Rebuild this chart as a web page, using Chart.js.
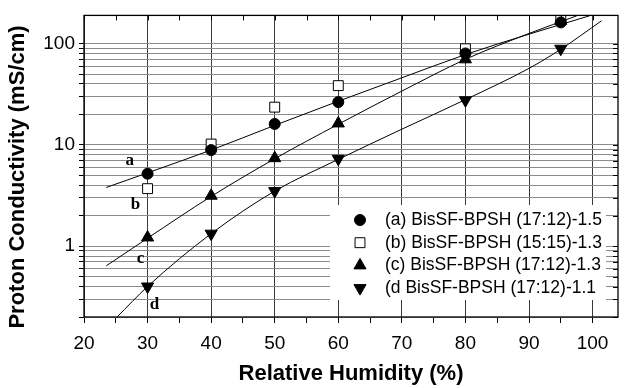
<!DOCTYPE html>
<html lang="en">
<head>
<meta charset="UTF-8"/>
<title>Proton Conductivity vs Relative Humidity</title>
<script src="https://cdn.jsdelivr.net/npm/chart.js"></script>
<style>
  body{margin:0;background:#fff;}
  #wrap{width:626px;height:388px;}
</style>
</head>
<body>
<div id="wrap"><canvas id="chart" width="626" height="388"></canvas></div>
<script>
  // measured points (RH %, conductivity mS/cm)
  const rh=[30,40,50,60,80,95];
  const seriesA=[5.2,8.9,16.1,26.5,80,162];
  const seriesB=[3.7,10.2,23.6,38.5,89,178];
  const seriesC=[1.22,3.15,7.4,16.3,70,168];
  const seriesD=[0.40,1.33,3.5,7.3,27.6,89];

  // fitted curves
  const fitAx=[23.5,30,40,50,60,70,80,90,99.5];
  const fitAy=[3.8,5.3,8.9,15.6,27,46,78,124,188];
  const fitCx=[23.5,30,40,50,60,70,80,90,97.5];
  const fitCy=[0.64,1.2,3.1,7.3,16,34,70,126,188];
  const fitDx=[25.2,30,40,50,60,70,80,90,95,101.4];
  const fitDy=[0.2,0.4,1.33,3.5,7.2,14.3,28,57,88,168];

  const legendLabels=['(a) BisSF-BPSH (17:12)-1.5','(b) BisSF-BPSH (15:15)-1.3','(c) BisSF-BPSH (17:12)-1.3','(d BisSF-BPSH (17:12)-1.1'];
  const xTicks=[20,25,30,35,40,45,50,55,60,65,70,75,80,85,90,95,100];
  const yTicks=[0.2,0.3,0.4,0.5,0.6,0.7,0.8,0.9,1,2,3,4,5,6,7,8,9,10,20,30,40,50,60,70,80,90,100];
  const yLabels=[1,10,100];

  const pts=(xs,ys)=>xs.map((x,i)=>({x:x,y:ys[i]}));
  const markStyles=[
    {pointStyle:'circle',pointRadius:5.5,bg:'#000'},
    {pointStyle:'rect',pointRadius:7,bg:'#fff'},
    {pointStyle:'triangle',pointRadius:7,bg:'#000',rot:0},
    {pointStyle:'triangle',pointRadius:7,bg:'#000',rot:180}
  ];
  const marks=[seriesA,seriesB,seriesC,seriesD].map((s,i)=>({
    label:legendLabels[i],data:pts(rh,s),showLine:false,
    pointStyle:markStyles[i].pointStyle,pointRadius:markStyles[i].pointRadius,
    pointRotation:markStyles[i].rot||0,
    pointBackgroundColor:markStyles[i].bg,pointBorderColor:'#000',pointBorderWidth:1
  }));
  const fits=[[fitAx,fitAy],[fitCx,fitCy],[fitDx,fitDy]].map(f=>({
    data:pts(f[0],f[1]),showLine:true,pointRadius:0,borderColor:'#000',borderWidth:1,
    tension:0.4,cubicInterpolationMode:'monotone'
  }));

  // frame, inner ticks, y title, curve tags, legend
  const decor={
    id:'decor',
    afterDraw(chart){
      const c=chart.ctx,a=chart.chartArea,xs=chart.scales.x,ys=chart.scales.y;
      c.save();
      // inner ticks on top and right
      c.strokeStyle='#000';c.lineWidth=1;c.beginPath();
      xTicks.forEach(v=>{const px=Math.round(xs.getPixelForValue(v))+0.5;c.moveTo(px,a.top);c.lineTo(px,a.top+5);});
      yTicks.forEach(v=>{const py=Math.round(ys.getPixelForValue(v))+0.5;c.moveTo(a.right,py);c.lineTo(a.right-5,py);});
      c.stroke();
      c.lineWidth=1.3;c.strokeRect(a.left,a.top,a.right-a.left,a.bottom-a.top);
      // y title
      c.fillStyle='#000';c.font='bold 22px "Liberation Sans", Arial, sans-serif';
      c.textAlign='center';c.textBaseline='middle';
      c.translate(17.5,177);c.rotate(-Math.PI/2);c.fillText('Proton Conductivity (mS/cm)',0,0);
      c.setTransform(1,0,0,1,0,0);
      // curve tags
      c.font='bold 17px "Liberation Serif", "Times New Roman", serif';
      [['a',27.2,7.0],['b',28.1,2.6],['c',28.9,0.76],['d',31.1,0.264]].forEach(t=>{
        c.fillText(t[0],xs.getPixelForValue(t[1]),ys.getPixelForValue(t[2]));
      });
      // legend box
      const lx=330,ly=205;
      c.fillStyle='#fff';c.fillRect(lx,ly,a.right-12-lx,a.bottom-17-ly);
      c.font='17.5px "Liberation Sans", Arial, sans-serif';c.textAlign='left';
      legendLabels.forEach((t,i)=>{
        const y=220+i*22.7,m=markStyles[i];
        c.fillStyle=m.bg;c.strokeStyle='#000';c.lineWidth=1;
        Chart.helpers.drawPoint(c,{pointStyle:m.pointStyle,radius:m.pointRadius,rotation:m.rot||0,borderWidth:1},360,y);
        c.fillStyle='#000';c.fillText(t,385,y);
      });
      c.restore();
    }
  };

  new Chart(document.getElementById('chart'),{
    type:'scatter',
    data:{datasets:[...marks,...fits]},
    options:{
      responsive:false,animation:false,
      layout:{padding:{left:0,top:14,right:4,bottom:0}},
      plugins:{legend:{display:false},tooltip:{enabled:false}},
      scales:{
        x:{
          type:'linear',min:20,max:104,
          afterBuildTicks:s=>{s.ticks=xTicks.map(v=>({value:v}));},
          afterFit:s=>{s.height=71;},
          ticks:{color:'#000',font:{family:'"Liberation Sans", Arial, sans-serif',size:19},padding:9,
            autoSkip:false,maxRotation:0,callback:v=>v%10===0?String(v):''},
          grid:{color:ctx=>ctx.tick&&ctx.tick.value%10===0?'#3a3a3a':'rgba(0,0,0,0)',
            tickColor:'#000',tickLength:6,lineWidth:1},
          border:{display:false},
          title:{display:true,text:'Relative Humidity (%)',color:'#000',
            font:{family:'"Liberation Sans", Arial, sans-serif',size:22,weight:'bold'},padding:{top:0,bottom:1}}
        },
        y:{
          type:'logarithmic',min:0.2,max:190,
          afterBuildTicks:s=>{s.ticks=yTicks.map(v=>({value:v,major:yLabels.includes(v)}));},
          afterFit:s=>{s.width=84;},
          ticks:{color:'#000',font:{family:'"Liberation Sans", Arial, sans-serif',size:19},padding:4,
            autoSkip:false,callback:v=>yLabels.includes(v)?String(v):''},
          grid:{color:'#8c8c8c',tickColor:'#000',tickLength:5,lineWidth:1},
          border:{display:false}
        }
      }
    },
    plugins:[decor]
  });
</script>
</body>
</html>
